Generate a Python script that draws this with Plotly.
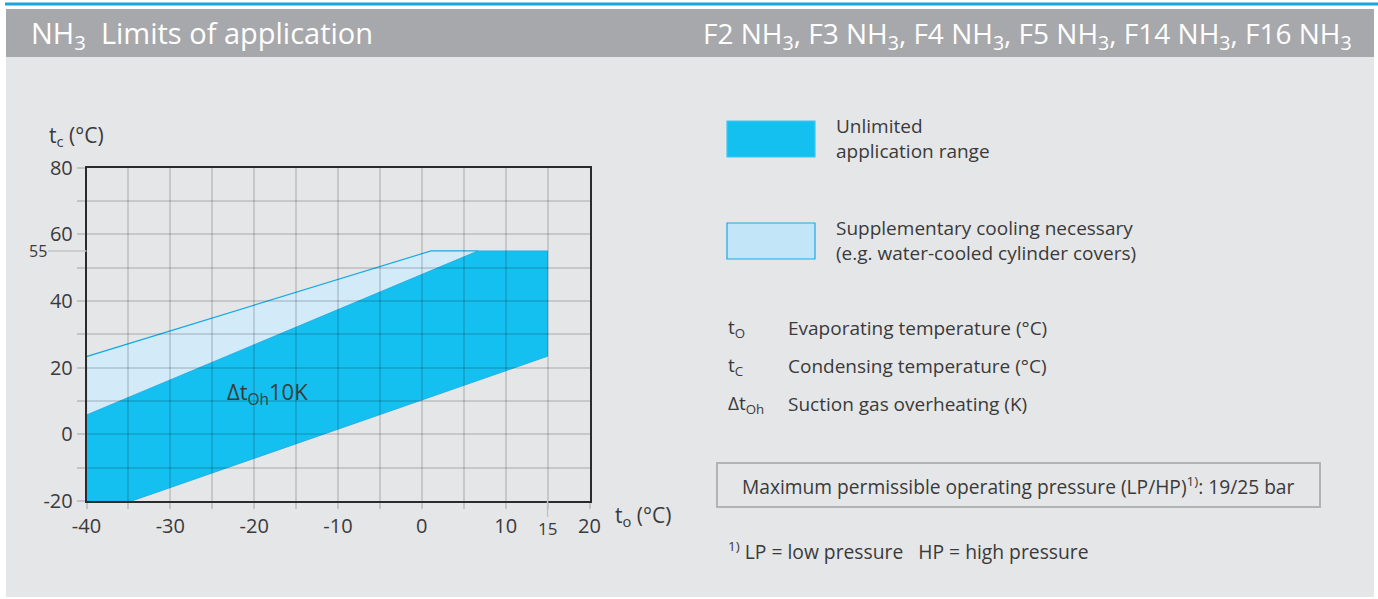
import plotly.graph_objects as go

W, H = 1378, 599
FONT = "Open Sans"
TEXT_COLOR = "#3a3a3a"
DARK_BLUE = "#14c0f0"
LIGHT_BLUE = "#d3ebf8"
EDGE_BLUE = "#18aae6"
BG = "#e5e6e8"

# ── data (t_o, t_c corners of the application envelopes) ──
UNLIM_TO = [-40, -34.6, 15, 15, 6.7, -40]
UNLIM_TC = [-20, -20, 23.4, 55, 55, 5.8]
SUPP_TO = [-40, -40, 1.1, 6.7]
SUPP_TC = [5.8, 23.3, 55, 55]

X_RANGE = [-40, 20]
Y_RANGE = [-20, 80]
X_TICKS = [-40, -30, -20, -10, 0, 10, 20]
X_TICK_LABELS = ["-40", "-30", "-20", "-10", "0", "10", "20"]
Y_TICKS = [-20, 0, 20, 40, 60, 80]
Y_TICK_LABELS = ["-20", "0", "20", "40", "60", "80"]
EXTRA_X_TICK = 15
EXTRA_Y_TICK = 55
LABEL_TEXT = "Δt<sub>Oh</sub>10K"
LABEL_POS = (-18.4, 12.4)

LEGEND_ITEMS = [
    ("Unlimited<br>application range", DARK_BLUE),
    ("Supplementary cooling necessary<br>(e.g. water-cooled cylinder covers)", "#c2e6f8"),
]
SYMBOLS = [
    ("t<sub>O</sub>", "Evaporating temperature (°C)"),
    ("t<sub>C</sub>", "Condensing temperature (°C)"),
    ("Δt<sub>Oh</sub>", "Suction gas overheating (K)"),
]

# plot area in pixels
PX_L, PX_R, PX_T, PX_B = 86.5, 589.5, 167.5, 501


def px(x):
    return x / W


def py(y):
    return 1 - y / H


fig = go.Figure()

fig.add_trace(go.Scatter(
    x=SUPP_TO, y=SUPP_TC, fill="toself", fillcolor=LIGHT_BLUE, mode="lines",
    line=dict(color=EDGE_BLUE, width=1.2), hoverinfo="skip", showlegend=False,
))
fig.add_trace(go.Scatter(
    x=UNLIM_TO, y=UNLIM_TC, fill="toself", fillcolor=DARK_BLUE, mode="lines",
    line=dict(color=EDGE_BLUE, width=0.8), hoverinfo="skip", showlegend=False,
))
# empty trace for the grid subplot drawn above the fills
fig.add_trace(go.Scatter(x=[None], y=[None], xaxis="x2", yaxis="y2",
                         showlegend=False, hoverinfo="skip"))

dom_x = [px(PX_L), px(PX_R)]
dom_y = [py(PX_B), py(PX_T)]
tick_font = dict(family=FONT, size=20, color=TEXT_COLOR)
grid = "rgba(0,0,0,0.13)"

fig.update_layout(
    width=W, height=H,
    margin=dict(l=0, r=0, t=0, b=0, pad=0),
    paper_bgcolor="white",
    plot_bgcolor="rgba(0,0,0,0)",
    showlegend=False,
    xaxis=dict(
        domain=dom_x, range=X_RANGE, tickvals=X_TICKS, ticktext=X_TICK_LABELS,
        showgrid=False, zeroline=False, automargin=False,
        showline=True, linecolor="#2b2b2b", linewidth=1.5, mirror=True,
        ticks="outside", ticklen=6, tickcolor="#c4c4c4", tickwidth=1.5,
        minor=dict(dtick=5, tick0=0, ticks="outside", ticklen=6, tickcolor="#c4c4c4",
                   tickwidth=1.5, showgrid=False),
        tickfont=tick_font, layer="above traces", fixedrange=True,
    ),
    yaxis=dict(
        domain=dom_y, range=Y_RANGE, tickvals=Y_TICKS, ticktext=Y_TICK_LABELS,
        showgrid=False, zeroline=False, automargin=False,
        showline=True, linecolor="#2b2b2b", linewidth=1.5, mirror=True,
        ticks="outside", ticklen=8, tickcolor="#c4c4c4", tickwidth=1.5,
        minor=dict(dtick=10, tick0=0, ticks="outside", ticklen=8, tickcolor="#c4c4c4",
                   tickwidth=1.5, showgrid=False),
        tickfont=tick_font, layer="above traces", fixedrange=True,
    ),
    xaxis2=dict(
        domain=dom_x, range=X_RANGE, dtick=5, tick0=0, showgrid=True,
        gridcolor=grid, gridwidth=1.5, zeroline=False, automargin=False,
        showticklabels=False, anchor="y2", fixedrange=True,
    ),
    yaxis2=dict(
        domain=dom_y, range=Y_RANGE, dtick=10, tick0=0, showgrid=True,
        gridcolor=grid, gridwidth=1.5, zeroline=False, automargin=False,
        showticklabels=False, anchor="x2", fixedrange=True,
    ),
)

shapes = [
    # page background, header bar and blue rule
    dict(type="rect", xref="paper", yref="paper", x0=px(6), x1=px(1374), y0=py(597), y1=py(9),
         fillcolor=BG, line_width=0, layer="below"),
    dict(type="rect", xref="paper", yref="paper", x0=px(6), x1=px(1374), y0=py(57), y1=py(9),
         fillcolor="#a7a8ab", line_width=0, layer="below"),
    dict(type="rect", xref="paper", yref="paper", x0=px(5), x1=px(1378), y0=py(5.5), y1=py(2.5),
         fillcolor="#1ba3dd", line_width=0, layer="below"),
    # longer ticks for the 55 / 15 marks
    dict(type="line", xref="paper", yref="y", x0=px(48), x1=px(PX_L), y0=EXTRA_Y_TICK, y1=EXTRA_Y_TICK,
         line=dict(color="#c4c4c4", width=1.5)),
    dict(type="line", xref="x", yref="paper", x0=EXTRA_X_TICK, x1=EXTRA_X_TICK, y0=py(PX_B), y1=py(517),
         line=dict(color="#c4c4c4", width=1.5)),
    # pressure box
    dict(type="rect", xref="paper", yref="paper", x0=px(717), x1=px(1320), y0=py(507), y1=py(463),
         line=dict(color="#b3b3b3", width=2)),
]

body = dict(family=FONT, size=19, color=TEXT_COLOR)
annotations = [
    dict(text="NH<sub>3</sub>  Limits of application", x=px(29), y=py(35), xanchor="left",
         font=dict(family=FONT, size=29, color="white")),
    dict(text=", ".join(f"F{n} NH<sub>3</sub>" for n in (2, 3, 4, 5, 14, 16)),
         x=px(1354), y=py(35), xanchor="right", font=dict(family=FONT, size=28, color="white")),
    dict(text="t<sub>c</sub> (°C)", x=px(47), y=py(136), xanchor="left",
         font=dict(family=FONT, size=21, color=TEXT_COLOR)),
    dict(text="t<sub>o</sub> (°C)", x=px(613), y=py(516), xanchor="left",
         font=dict(family=FONT, size=21, color=TEXT_COLOR)),
    dict(text=str(EXTRA_Y_TICK), x=px(49), y=EXTRA_Y_TICK, yref="y", xanchor="right",
         font=dict(family=FONT, size=16, color=TEXT_COLOR)),
    dict(text=str(EXTRA_X_TICK), x=EXTRA_X_TICK, xref="x", y=py(528),
         font=dict(family=FONT, size=17, color=TEXT_COLOR)),
    dict(text=LABEL_TEXT, x=LABEL_POS[0], y=LABEL_POS[1], xref="x", yref="y",
         font=dict(family=FONT, size=22, color=TEXT_COLOR)),
    dict(text="Maximum permissible operating pressure (LP/HP)<sup>1)</sup>: 19/25 bar",
         x=px(1018), y=py(486), font=dict(family=FONT, size=19.2, color=TEXT_COLOR)),
    dict(text="<sup>1)</sup> LP = low pressure&nbsp;&nbsp;&nbsp;HP = high pressure",
         x=px(726), y=py(551), xanchor="left", font=dict(family=FONT, size=19.3, color=TEXT_COLOR)),
]

# legend swatches and labels
for i, (label, color) in enumerate(LEGEND_ITEMS):
    top = 121 + i * 102
    shapes.append(dict(type="rect", xref="paper", yref="paper", x0=px(727), x1=px(815),
                       y0=py(top + 36), y1=py(top), fillcolor=color,
                       line=dict(color=EDGE_BLUE if i else "#3cc8f2", width=1.2)))
    annotations.append(dict(text=label, x=px(834), y=py(top + 18), xanchor="left", align="left",
                            font=body))

for i, (sym, desc) in enumerate(SYMBOLS):
    yc = 328 + i * 38
    annotations.append(dict(text=sym, x=px(726), y=py(yc), xanchor="left", font=body))
    annotations.append(dict(text=desc, x=px(786), y=py(yc), xanchor="left", font=body))

for a in annotations:
    a.setdefault("xref", "paper")
    a.setdefault("yref", "paper")
    a.setdefault("showarrow", False)
    a.setdefault("xanchor", "center")
    a.setdefault("yanchor", "middle")

fig.update_layout(shapes=shapes, annotations=annotations)
# drop the default 8px body margin so the figure fills the window exactly
fig.write_html(
    "out.html",
    config={"displayModeBar": False},
    post_script="document.body.style.margin = '0';",
)
